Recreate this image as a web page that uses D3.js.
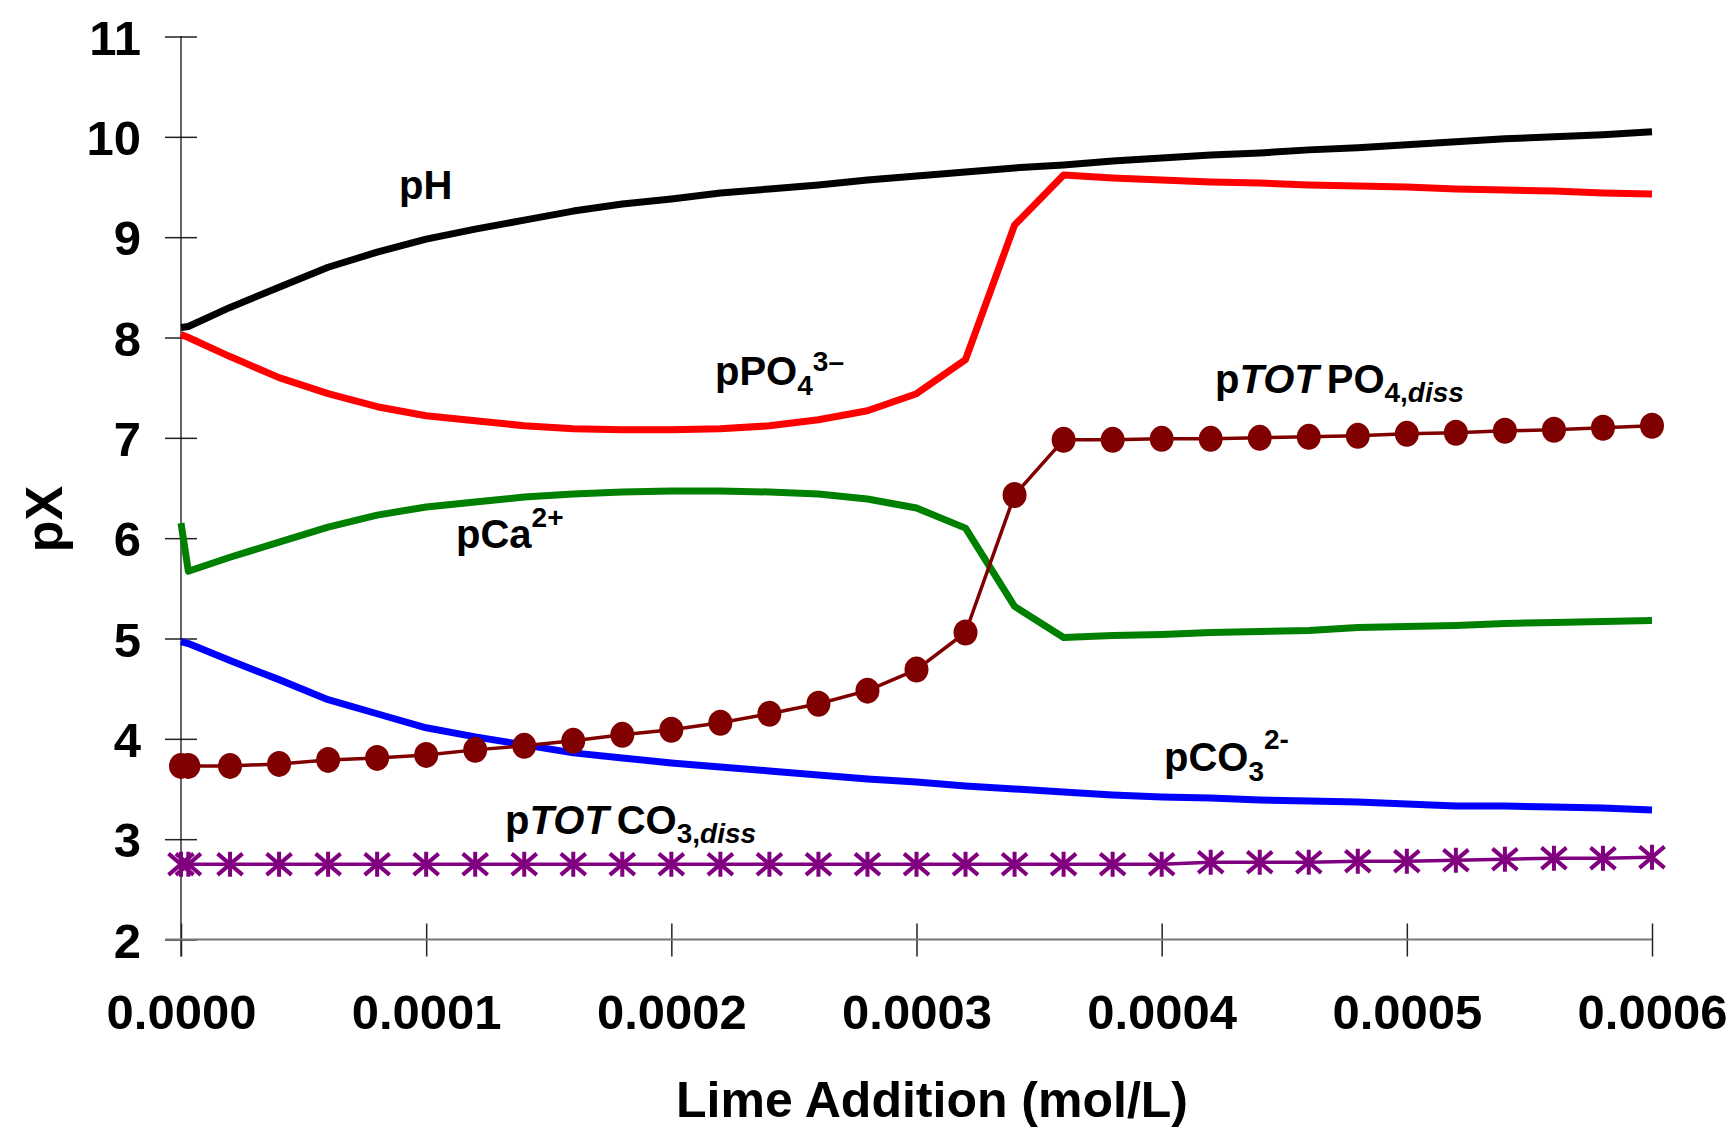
<!DOCTYPE html>
<html><head><meta charset="utf-8">
<script src="https://cdn.jsdelivr.net/npm/d3@7"></script>
<style>
body{margin:0;background:#fff}
text{font-family:"Liberation Sans",Arial,sans-serif;font-weight:bold;fill:#000}
</style>
</head><body>
<svg id="chart" width="1733" height="1134"></svg>
<script>
// ---- data ----
const limeAddition = [0, 0.000003, 0.00002, 0.00004, 0.00006, 0.00008, 0.0001, 0.00012, 0.00014, 0.00016, 0.00018, 0.0002,
  0.00022, 0.00024, 0.00026, 0.00028, 0.0003, 0.00032, 0.00034, 0.00036, 0.00038, 0.0004,
  0.00042, 0.00044, 0.00046, 0.00048, 0.0005, 0.00052, 0.00054, 0.00056, 0.00058, 0.0006];
const pH = [8.10, 8.11, 8.30, 8.50, 8.70, 8.85, 8.98, 9.08, 9.17, 9.26, 9.33, 9.38, 9.44, 9.48, 9.52, 9.57,
  9.61, 9.65, 9.69, 9.72, 9.76, 9.79, 9.82, 9.84, 9.87, 9.89, 9.92, 9.95, 9.98, 10.00, 10.02, 10.05];
const pPO4 = [8.03, 8.00, 7.81, 7.60, 7.44, 7.31, 7.22, 7.17, 7.12, 7.09, 7.08, 7.08, 7.09, 7.12, 7.18, 7.27,
  7.44, 7.78, 9.12, 9.62, 9.59, 9.57, 9.55, 9.54, 9.52, 9.51, 9.50, 9.48, 9.47, 9.46, 9.44, 9.43];
const pCa = [6.15, 5.67, 5.81, 5.96, 6.11, 6.23, 6.31, 6.36, 6.41, 6.44, 6.46, 6.47, 6.47, 6.46, 6.44, 6.39,
  6.30, 6.10, 5.32, 5.01, 5.03, 5.04, 5.06, 5.07, 5.08, 5.11, 5.12, 5.13, 5.15, 5.16, 5.17, 5.18];
const pCO3 = [4.97, 4.95, 4.78, 4.59, 4.39, 4.25, 4.11, 4.02, 3.94, 3.86, 3.81, 3.76, 3.72, 3.68, 3.64, 3.60,
  3.57, 3.53, 3.50, 3.47, 3.44, 3.42, 3.41, 3.39, 3.38, 3.37, 3.35, 3.33, 3.33, 3.32, 3.31, 3.29];
const pTOTPO4 = [3.73, 3.73, 3.73, 3.75, 3.79, 3.81, 3.84, 3.89, 3.93, 3.98, 4.04, 4.09, 4.16, 4.25, 4.35, 4.48,
  4.69, 5.06, 6.43, 6.98, 6.98, 6.99, 6.99, 7.00, 7.01, 7.02, 7.04, 7.05, 7.07, 7.08, 7.10, 7.12];
const pTOTCO3 = [2.75, 2.75, 2.75, 2.75, 2.75, 2.75, 2.75, 2.75, 2.75, 2.75, 2.75, 2.75, 2.75, 2.75, 2.75, 2.75,
  2.75, 2.75, 2.75, 2.75, 2.75, 2.75, 2.77, 2.77, 2.77, 2.78, 2.78, 2.79, 2.80, 2.81, 2.81, 2.82];
const xTicks = [0, 0.0001, 0.0002, 0.0003, 0.0004, 0.0005, 0.0006];
const yTicks = [2, 3, 4, 5, 6, 7, 8, 9, 10, 11];

// ---- layout ----
const svg = d3.select("#chart");
const x = d3.scaleLinear().domain([0, 0.0006]).range([181, 1652]);
const y = d3.scaleLinear().domain([2, 11]).range([939.5, 36.5]);

// axes
const yAxis = svg.append("g").attr("transform", `translate(${x(0)},0)`)
  .call(d3.axisLeft(y).tickValues(yTicks).tickSize(16).tickFormat(d3.format("d")));
yAxis.select(".domain").remove();
yAxis.selectAll(".tick line").attr("x2", 16).attr("x1", -16).attr("stroke", "#222").attr("stroke-width", 1.5);
yAxis.selectAll(".tick text").attr("font-size", 49).attr("dy", "0.36em").attr("x", -40);
svg.append("line").attr("x1", x(0)).attr("x2", x(0)).attr("y1", y(11)).attr("y2", y(2) + 17)
  .attr("stroke", "#000").attr("stroke-width", 1.2);

const xAxis = svg.append("g").attr("transform", `translate(0,${y(2)})`)
  .call(d3.axisBottom(x).tickValues(xTicks).tickSize(16).tickFormat(d3.format(".4f")));
xAxis.select(".domain").remove();
xAxis.selectAll(".tick line").attr("y1", -16).attr("y2", 17).attr("stroke", "#222").attr("stroke-width", 1.5);
xAxis.selectAll(".tick text").attr("font-size", 49).attr("y", 89).attr("dy", 0);
svg.append("line").attr("x1", x(0) - 16).attr("x2", x(0.0006)).attr("y1", y(2)).attr("y2", y(2))
  .attr("stroke", "#777").attr("stroke-width", 2);

svg.append("text").attr("x", 932).attr("y", 1117).attr("text-anchor", "middle")
  .attr("font-size", 50).text("Lime Addition (mol/L)");
svg.append("text").attr("transform", "translate(62,519) rotate(-90)").attr("text-anchor", "middle")
  .attr("font-size", 52).text("pX");

// series
const rows = limeAddition.map((v, i) => ({x: v, i}));
const mk = arr => d3.line().x(d => x(d.x)).y(d => y(arr[d.i]));
const lineSeries = [
  {vals: pH, color: "#000000", w: 7},
  {vals: pPO4, color: "#ff0000", w: 7},
  {vals: pCa, color: "#008000", w: 7},
  {vals: pCO3, color: "#0000ff", w: 7},
  {vals: pTOTPO4, color: "#800000", w: 3.5},
  {vals: pTOTCO3, color: "#800080", w: 3.5}
];
lineSeries.forEach(s => {
  svg.append("path").datum(rows).attr("d", mk(s.vals)).attr("fill", "none")
    .attr("stroke", s.color).attr("stroke-width", s.w).attr("stroke-linejoin", "round");
});

svg.append("g").selectAll("ellipse").data(rows).join("ellipse")
  .attr("cx", d => x(d.x)).attr("cy", d => y(pTOTPO4[d.i])).attr("rx", 12).attr("ry", 13)
  .attr("fill", "#800000");

const s = 12.5;
const starPath = `M0,${-s}L0,${s}M${-s},${-s * 0.85}L${s},${s * 0.85}M${-s},${s * 0.85}L${s},${-s * 0.85}`;
svg.append("g").selectAll("path").data(rows).join("path")
  .attr("transform", d => `translate(${x(d.x)},${y(pTOTCO3[d.i])})`)
  .attr("d", starPath).attr("stroke", "#800080").attr("stroke-width", 4).attr("fill", "none");

// labels
function label(xp, yp, parts) {
  const t = svg.append("text").attr("x", xp).attr("y", yp).attr("font-size", 40);
  parts.forEach(p => {
    const ts = t.append("tspan").text(p.t);
    if (p.fs) ts.attr("font-size", p.fs);
    if (p.dy) ts.attr("dy", p.dy);
    if (p.dx) ts.attr("dx", p.dx);
    if (p.it) ts.attr("font-style", "italic");
  });
}
label(399, 199, [{t: "pH"}]);
label(715, 385, [{t: "pPO"}, {t: "4", fs: 28, dy: 10}, {t: "3\u2013", fs: 28, dy: -24}]);
label(1215, 393, [{t: "p"}, {t: "TOT", it: true}, {t: "PO", dx: 8}, {t: "4,", fs: 28, dy: 9}, {t: "diss", fs: 28, it: true}]);
label(456, 548, [{t: "pCa"}, {t: "2+", fs: 28, dy: -21}]);
label(1164, 771, [{t: "pCO"}, {t: "3", fs: 28, dy: 10}, {t: "2-", fs: 28, dy: -32}]);
label(505, 834, [{t: "p"}, {t: "TOT", it: true}, {t: "CO", dx: 8}, {t: "3,", fs: 28, dy: 9}, {t: "diss", fs: 28, it: true}]);
</script>
</body></html>
